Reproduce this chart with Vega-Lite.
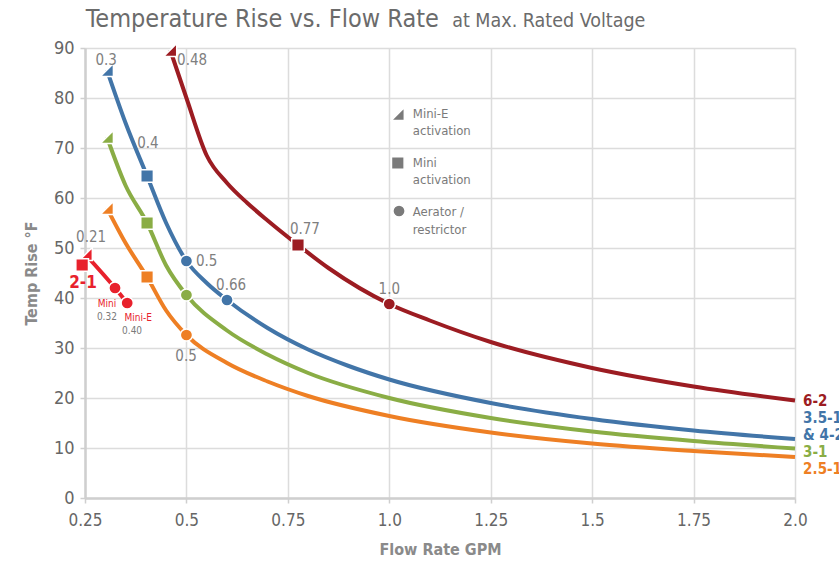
{
  "$schema": "https://vega.github.io/schema/vega-lite/v6.json",
  "autosize": "none",
  "width": 710,
  "height": 450,
  "padding": {"left": 85, "top": 48, "right": 44, "bottom": 74},
  "background": "white",
  "config": {
    "view": {"stroke": null},
    "font": "DejaVu Sans Condensed, sans-serif",
    "axis": {
      "gridColor": "#dcdcdc", "gridWidth": 1.5,
      "domainColor": "#cfcfcf", "domainWidth": 2.5,
      "tickColor": "#cfcfcf", "tickWidth": 1.5, "tickSize": 5,
      "labelColor": "#666666", "labelFont": "DejaVu Sans Condensed, sans-serif",
      "titleColor": "#8a8a8a", "titleFont": "DejaVu Sans Condensed, sans-serif", "titleFontWeight": "bold"
    }
  },
  "datasets": {
    "curves": [
      {"series": "6-2", "q": 0.46, "t": 89.6},
      {"series": "6-2", "q": 0.5, "t": 80},
      {"series": "6-2", "q": 0.55, "t": 68.5},
      {"series": "6-2", "q": 0.6, "t": 63},
      {"series": "6-2", "q": 0.65, "t": 59},
      {"series": "6-2", "q": 0.7, "t": 55.5},
      {"series": "6-2", "q": 0.775, "t": 50.6},
      {"series": "6-2", "q": 0.85, "t": 46},
      {"series": "6-2", "q": 1.0, "t": 38.8},
      {"series": "6-2", "q": 1.1, "t": 35.5},
      {"series": "6-2", "q": 1.25, "t": 31.2},
      {"series": "6-2", "q": 1.5, "t": 26},
      {"series": "6-2", "q": 1.75, "t": 22.3},
      {"series": "6-2", "q": 2.0, "t": 19.5},
      {"series": "3.5-1", "q": 0.304, "t": 85.6},
      {"series": "3.5-1", "q": 0.35, "t": 75},
      {"series": "3.5-1", "q": 0.403, "t": 64.4},
      {"series": "3.5-1", "q": 0.45, "t": 55},
      {"series": "3.5-1", "q": 0.5, "t": 47.4},
      {"series": "3.5-1", "q": 0.55, "t": 43},
      {"series": "3.5-1", "q": 0.6, "t": 39.6},
      {"series": "3.5-1", "q": 0.7, "t": 34},
      {"series": "3.5-1", "q": 0.8, "t": 29.7},
      {"series": "3.5-1", "q": 0.9, "t": 26.4},
      {"series": "3.5-1", "q": 1.0, "t": 23.7},
      {"series": "3.5-1", "q": 1.25, "t": 19},
      {"series": "3.5-1", "q": 1.5, "t": 15.8},
      {"series": "3.5-1", "q": 1.75, "t": 13.5},
      {"series": "3.5-1", "q": 2.0, "t": 11.8},
      {"series": "3-1", "q": 0.304, "t": 72.2},
      {"series": "3-1", "q": 0.35, "t": 62.5},
      {"series": "3-1", "q": 0.403, "t": 55},
      {"series": "3-1", "q": 0.45, "t": 46.5},
      {"series": "3-1", "q": 0.5, "t": 40.6},
      {"series": "3-1", "q": 0.6, "t": 33.5},
      {"series": "3-1", "q": 0.7, "t": 28.7},
      {"series": "3-1", "q": 0.8, "t": 25},
      {"series": "3-1", "q": 1.0, "t": 20},
      {"series": "3-1", "q": 1.25, "t": 16},
      {"series": "3-1", "q": 1.5, "t": 13.3},
      {"series": "3-1", "q": 1.75, "t": 11.4},
      {"series": "3-1", "q": 2.0, "t": 9.9},
      {"series": "2.5-1", "q": 0.304, "t": 58},
      {"series": "2.5-1", "q": 0.35, "t": 51},
      {"series": "2.5-1", "q": 0.403, "t": 44.2},
      {"series": "2.5-1", "q": 0.45, "t": 37.5},
      {"series": "2.5-1", "q": 0.5, "t": 32.6},
      {"series": "2.5-1", "q": 0.6, "t": 27},
      {"series": "2.5-1", "q": 0.7, "t": 23.3},
      {"series": "2.5-1", "q": 0.8, "t": 20.4},
      {"series": "2.5-1", "q": 1.0, "t": 16.4},
      {"series": "2.5-1", "q": 1.25, "t": 13.1},
      {"series": "2.5-1", "q": 1.5, "t": 10.9},
      {"series": "2.5-1", "q": 1.75, "t": 9.4},
      {"series": "2.5-1", "q": 2.0, "t": 8.2},
      {"series": "2-1", "q": 0.252, "t": 48.6},
      {"series": "2-1", "q": 0.324, "t": 42},
      {"series": "2-1", "q": 0.354, "t": 39}
    ],
    "markers": [
      {"series": "6-2", "kind": "Mini-E activation", "q": 0.46, "t": 89.6},
      {"series": "6-2", "kind": "Mini activation", "q": 0.775, "t": 50.6},
      {"series": "6-2", "kind": "Aerator / restrictor", "q": 1.0, "t": 38.8},
      {"series": "3.5-1", "kind": "Mini-E activation", "q": 0.304, "t": 85.6},
      {"series": "3.5-1", "kind": "Mini activation", "q": 0.403, "t": 64.4},
      {"series": "3.5-1", "kind": "Aerator / restrictor", "q": 0.5, "t": 47.4},
      {"series": "3.5-1", "kind": "Aerator / restrictor", "q": 0.6, "t": 39.6},
      {"series": "3-1", "kind": "Mini-E activation", "q": 0.304, "t": 72.2},
      {"series": "3-1", "kind": "Mini activation", "q": 0.403, "t": 55},
      {"series": "3-1", "kind": "Aerator / restrictor", "q": 0.5, "t": 40.6},
      {"series": "2.5-1", "kind": "Mini-E activation", "q": 0.304, "t": 58},
      {"series": "2.5-1", "kind": "Mini activation", "q": 0.403, "t": 44.2},
      {"series": "2.5-1", "kind": "Aerator / restrictor", "q": 0.5, "t": 32.6},
      {"series": "2-1", "kind": "Mini-E activation", "q": 0.252, "t": 48.8},
      {"series": "2-1", "kind": "Mini activation", "q": 0.243, "t": 46.6},
      {"series": "2-1", "kind": "Aerator / restrictor", "q": 0.324, "t": 42},
      {"series": "2-1", "kind": "Aerator / restrictor", "q": 0.354, "t": 39},
      {"series": "note", "kind": "Mini-E activation", "q": 1.021, "t": 76.8},
      {"series": "note", "kind": "Mini activation", "q": 1.021, "t": 67},
      {"series": "note", "kind": "Aerator / restrictor", "q": 1.024, "t": 57.4}
    ],
    "values": [
      {"label": "0.3", "q": 0.302, "t": 87.6},
      {"label": "0.48", "q": 0.514, "t": 87.6},
      {"label": "0.4", "q": 0.405, "t": 71},
      {"label": "0.5", "q": 0.55, "t": 47.4},
      {"label": "0.66", "q": 0.61, "t": 42.6},
      {"label": "0.77", "q": 0.792, "t": 53.8},
      {"label": "1.0", "q": 1.0, "t": 41.8},
      {"label": "0.5", "q": 0.499, "t": 28.4},
      {"label": "0.21", "q": 0.265, "t": 52.2}
    ],
    "small": [
      {"series": "2-1", "label": "Mini", "q": 0.304, "t": 38.8},
      {"series": "note", "label": "0.32", "q": 0.304, "t": 36.2},
      {"series": "2-1", "label": "Mini-E", "q": 0.381, "t": 36.1},
      {"series": "note", "label": "0.40", "q": 0.366, "t": 33.4}
    ],
    "names": [
      {"series": "6-2", "label": "6-2", "q": 2.02, "t": 19.4},
      {"series": "3.5-1", "label": "3.5-1", "q": 2.02, "t": 16},
      {"series": "3.5-1", "label": "& 4-2", "q": 2.02, "t": 12.7},
      {"series": "3-1", "label": "3-1", "q": 2.02, "t": 9.3},
      {"series": "2.5-1", "label": "2.5-1", "q": 2.02, "t": 5.8}
    ],
    "legendtext": [
      {"label": "Mini-E", "q": 1.058, "t": 76.8},
      {"label": "activation", "q": 1.058, "t": 73.4},
      {"label": "Mini", "q": 1.058, "t": 67},
      {"label": "activation", "q": 1.058, "t": 63.6},
      {"label": "Aerator /", "q": 1.058, "t": 57.2},
      {"label": "restrictor", "q": 1.058, "t": 53.6}
    ],
    "heading": [
      {"label": "Temperature Rise vs. Flow Rate", "q": 0.252, "t": 94.2}
    ],
    "subheading": [
      {"label": "at Max. Rated Voltage", "q": 1.155, "t": 94.2}
    ]
  },
  "encoding": {
    "x": {
      "field": "q", "type": "quantitative",
      "scale": {"domain": [0.25, 2.0], "nice": false, "zero": false},
      "axis": {
        "title": "Flow Rate GPM",
        "values": [0.25, 0.5, 0.75, 1.0, 1.25, 1.5, 1.75, 2.0],
        "format": ".2~f",
        "labelExpr": "datum.value == 1 ? '1.0' : datum.value == 2 ? '2.0' : datum.label",
        "labelFlush": false,
        "labelFontSize": 17, "labelPadding": 9,
        "titleFontSize": 16, "titlePadding": 13
      }
    },
    "y": {
      "field": "t", "type": "quantitative",
      "scale": {"domain": [0, 90], "nice": false},
      "axis": {
        "title": "Temp Rise °F",
        "values": [0, 10, 20, 30, 40, 50, 60, 70, 80, 90],
        "labelFontSize": 18, "labelPadding": 6,
        "titleFontSize": 16, "titlePadding": 14
      }
    }
  },
  "layer": [
    {
      "data": {"name": "curves"},
      "mark": {"type": "line", "strokeWidth": 4, "interpolate": "monotone"},
      "encoding": {
        "color": {"field": "series", "type": "nominal",
          "scale": {"domain": ["6-2", "3.5-1", "3-1", "2.5-1", "2-1", "note"],
                    "range": ["#9c1c22", "#4275a8", "#8aad45", "#ee7f24", "#e8212c", "#7a7a7a"]},
          "legend": null},
        "detail": {"field": "series"}
      }
    },
    {
      "data": {"name": "markers"},
      "mark": {"type": "point", "filled": true, "opacity": 1, "stroke": "white", "strokeWidth": 1.5},
      "encoding": {
        "color": {"field": "series", "type": "nominal", "legend": null},
        "shape": {"field": "kind", "type": "nominal",
          "scale": {"domain": ["Mini-E activation", "Mini activation", "Aerator / restrictor"],
                    "range": ["M 1 -1 L 1 1 L -1 1 Z", "square", "circle"]},
          "legend": null},
        "size": {"field": "kind", "type": "nominal",
          "scale": {"domain": ["Mini-E activation", "Mini activation", "Aerator / restrictor"],
                    "range": [170, 150, 170]},
          "legend": null}
      }
    },
    {
      "data": {"name": "values"},
      "mark": {"type": "text", "fontSize": 15, "color": "#7f7f7f", "baseline": "middle", "align": "center"},
      "encoding": {"text": {"field": "label"}}
    },
    {
      "data": {"name": "small"},
      "mark": {"type": "text", "fontSize": 10, "baseline": "middle", "align": "center"},
      "encoding": {"text": {"field": "label"}, "color": {"field": "series", "type": "nominal", "legend": null}}
    },
    {
      "data": {"name": "names"},
      "mark": {"type": "text", "fontSize": 15, "fontWeight": "bold", "baseline": "middle", "align": "left"},
      "encoding": {"text": {"field": "label"}, "color": {"field": "series", "type": "nominal", "legend": null}}
    },
    {
      "data": {"values": [{"series": "2-1", "label": "2-1", "q": 0.245, "t": 43}]},
      "mark": {"type": "text", "fontSize": 17, "fontWeight": "bold", "baseline": "middle", "align": "center"},
      "encoding": {"text": {"field": "label"}, "color": {"field": "series", "type": "nominal", "legend": null}}
    },
    {
      "data": {"name": "legendtext"},
      "mark": {"type": "text", "fontSize": 13, "color": "#7a7a7a", "baseline": "middle", "align": "left"},
      "encoding": {"text": {"field": "label"}}
    },
    {
      "data": {"name": "heading"},
      "mark": {"type": "text", "color": "#6b6b6b", "fontSize": 25, "baseline": "alphabetic", "align": "left"},
      "encoding": {"text": {"field": "label"}}
    },
    {
      "data": {"name": "subheading"},
      "mark": {"type": "text", "color": "#6b6b6b", "fontSize": 19.5, "baseline": "alphabetic", "align": "left"},
      "encoding": {"text": {"field": "label"}}
    }
  ]
}
